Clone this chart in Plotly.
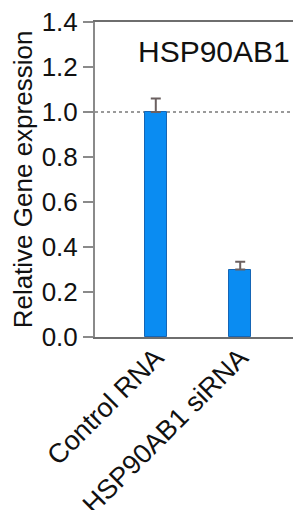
import plotly.graph_objects as go

categories = ["Control RNA", "HSP90AB1 siRNA"]
values = [1.0, 0.30]
errors_up = [0.06, 0.035]
y_ticks = [0.0, 0.2, 0.4, 0.6, 0.8, 1.0, 1.2, 1.4]
reference_level = 1.0
title_text = "HSP90AB1"
y_title = "Relative Gene expression"

FONT = "Liberation Sans, Arial, sans-serif"

fig = go.Figure()
fig.add_trace(go.Bar(
    x=categories, y=values,
    width=0.26,
    marker=dict(color="#0a8cf2", line=dict(color="#1565b5", width=1)),
    error_y=dict(type="data", array=errors_up, arrayminus=[0, 0], symmetric=False,
                 color="#6b6060", thickness=2, width=5),
))

fig.add_shape(type="line", xref="paper", x0=0, x1=1, yref="y", y0=reference_level, y1=reference_level,
              line=dict(color="#9a9a9a", width=2, dash="3px,3px"), layer="below")

fig.add_annotation(text=title_text, xref="paper", yref="paper", x=0.955, y=0.905,
                   xanchor="right", yanchor="middle", showarrow=False,
                   font=dict(family=FONT, size=30, color="#111111"))

fig.update_layout(
    width=293, height=502,
    margin=dict(l=87, r=0, t=14, b=173, autoexpand=False),
    plot_bgcolor="white", paper_bgcolor="white",
    showlegend=False,
    font=dict(family=FONT, color="#111111"),
    bargap=0,
)
fig.update_xaxes(
    type="category", range=[-0.72, 1.72], automargin=False,
    showline=True, linecolor="#6e6e6e", linewidth=2, mirror=True,
    showgrid=False, ticks="", tickangle=-45, ticklabelstandoff=-8,
    ticklabeloverflow="allow",
    tickfont=dict(family=FONT, size=27, color="#111111"),
)
fig.update_yaxes(
    range=[0, 1.4], tickvals=y_ticks, tickformat=".1f", automargin=False,
    showline=True, linecolor="#8a8a8a", linewidth=2,
    showgrid=False, zeroline=False, ticks="outside", ticklen=10, tickwidth=1.5, tickcolor="#8a8a8a",
    ticklabeloverflow="allow",
    tickfont=dict(family=FONT, size=26, color="#111111"),
    title=dict(text=y_title, font=dict(family=FONT, size=26, color="#111111"), standoff=6),
)

fig.write_html("out.html")
